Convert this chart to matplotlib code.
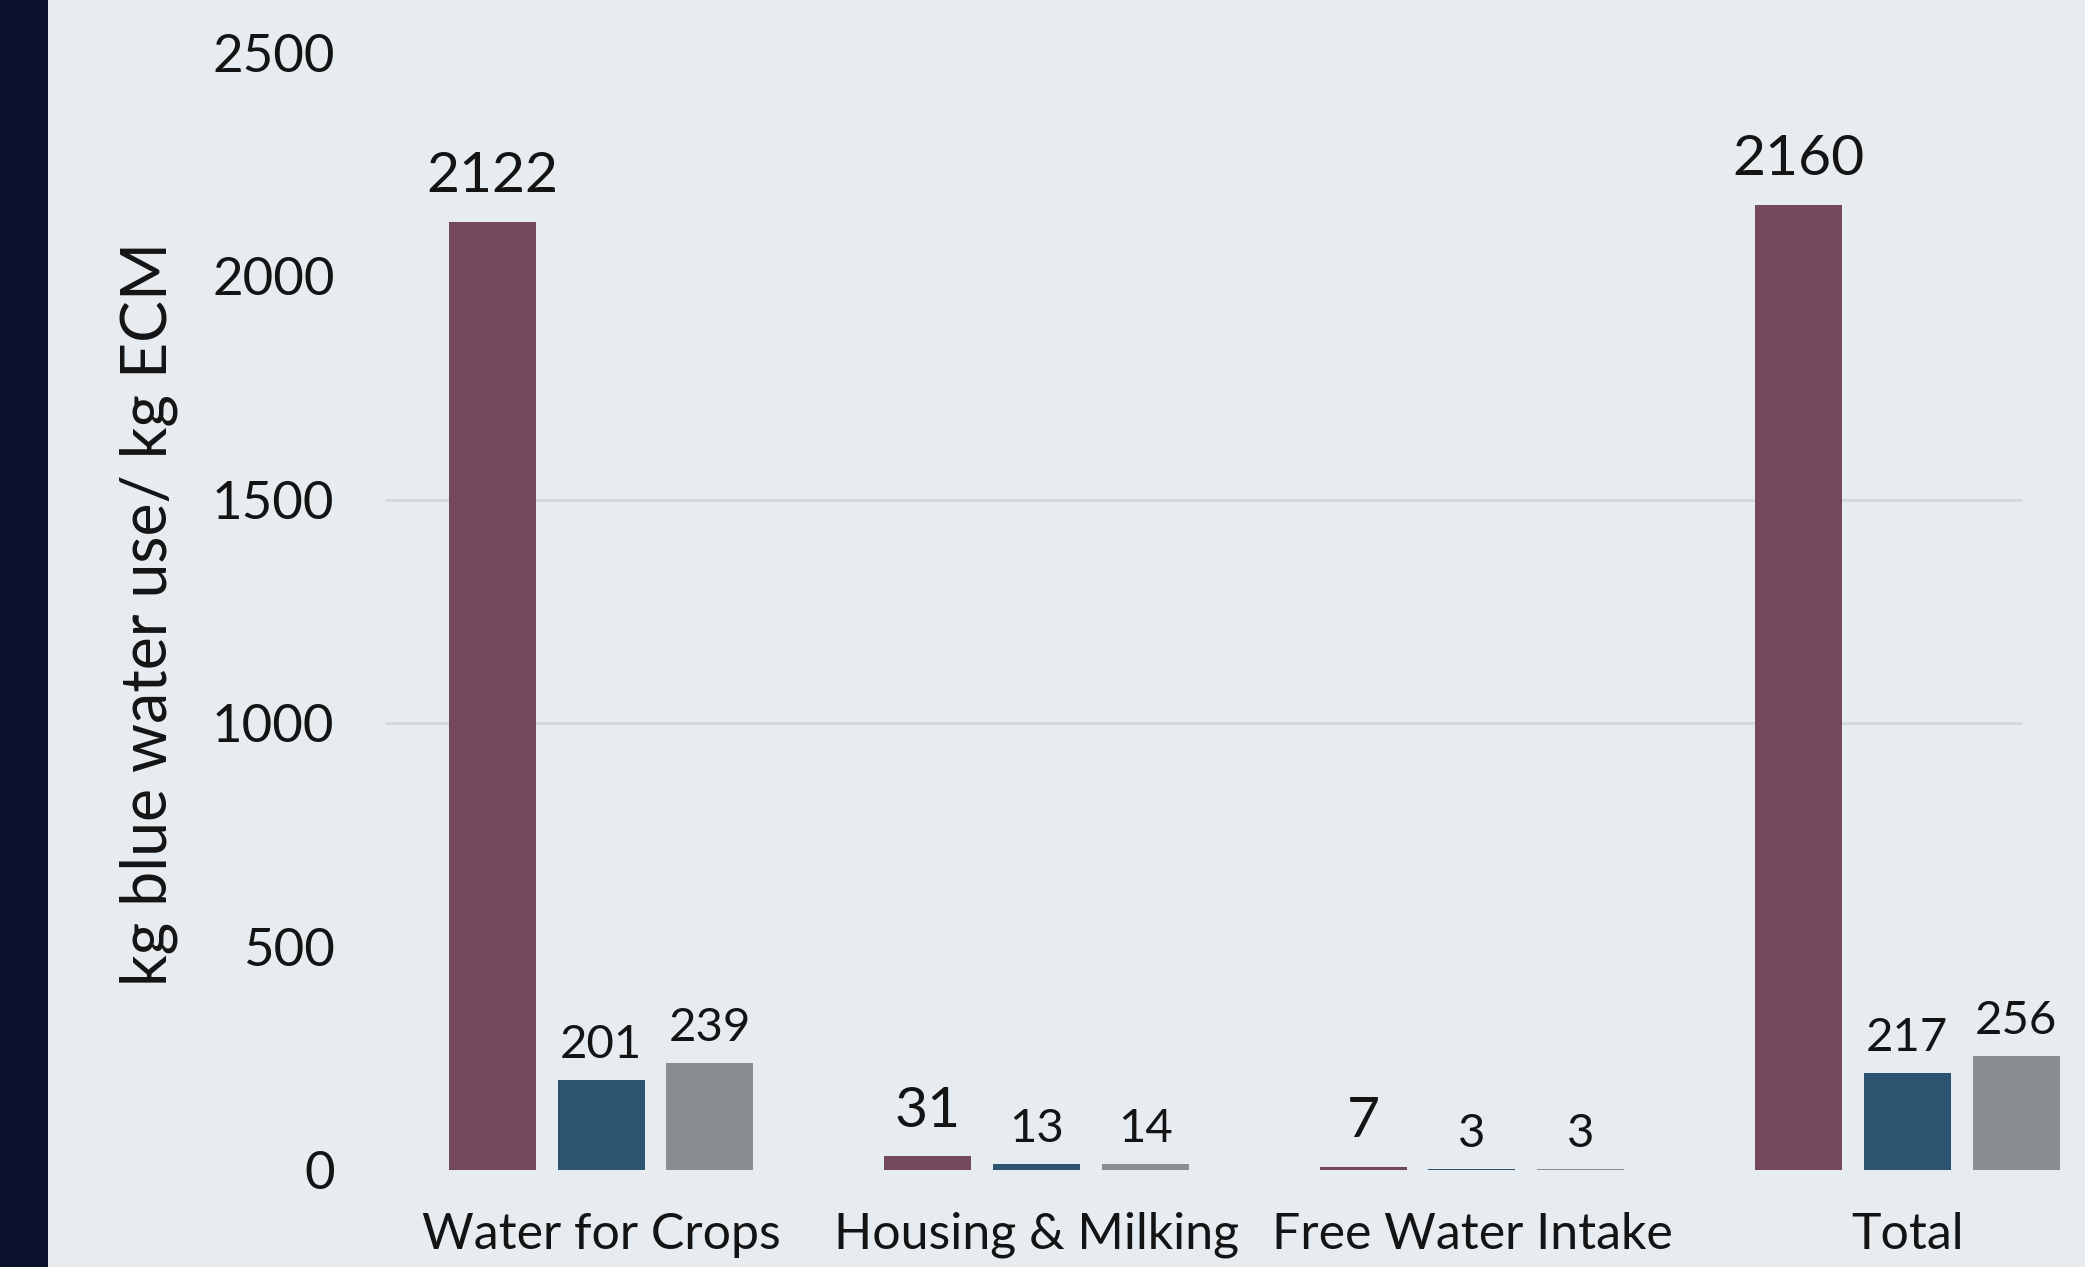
import matplotlib.pyplot as plt
import matplotlib.patches as mpatches
import numpy as np

categories = ["Water for Crops", "Housing & Milking", "Free Water Intake", "Total"]
series_a = [2122, 31, 7, 2160]
series_b = [201, 13, 3, 217]
series_c = [239, 14, 3, 256]
y_ticks = [0, 500, 1000, 1500, 2000, 2500]
grid_values = [1000, 1500]

bg = '#E6ECEF'
colors = ['#73485C', '#2B5470', '#8A8D92']
text_col = '#141414'
font = 'Lato'

fig = plt.figure(figsize=(20.85, 12.67), dpi=100)
fig.patch.set_facecolor(bg)

# dark strip down the left edge
fig.patches.append(mpatches.Rectangle((0, 0), 48 / 2085, 1, transform=fig.transFigure,
                                      facecolor='#0C102D', edgecolor='none', zorder=0))

ax = fig.add_axes([386 / 2085, 1 - 1170 / 1267, 1 - 386 / 2085, (1170 - 53) / 1267])
ax.set_facecolor(bg)

x = np.arange(len(categories))
step = 0.25
width = 0.2

for g in grid_values:
    ax.axhline(g, xmin=0, xmax=0.962, color='#D3D9DD', lw=2, zorder=0)

all_series = [series_a, series_b, series_c]
for i, vals in enumerate(all_series):
    pos = x + (i - 1) * step
    ax.bar(pos, vals, width=width, color=colors[i], zorder=2)
    big = i == 0
    for p, v in zip(pos, vals):
        ax.annotate(str(v), (p, v), xytext=(0, 14 if big else 10), textcoords='offset points',
                    ha='center', va='bottom', fontsize=41 if big else 34,
                    color=text_col, family=font, annotation_clip=False)

ax.set_xlim(-0.494, 3.408)
ax.set_ylim(0, 2500)
ax.set_yticks(y_ticks)
ax.set_yticklabels([str(t) for t in y_ticks], fontsize=38, color=text_col, family=font)
ax.set_xticks(x)
ax.set_xticklabels(categories, fontsize=36, color=text_col, family=font)
ax.tick_params(axis='y', length=0, pad=37)
ax.tick_params(axis='x', length=0, pad=30)
for s in ax.spines.values():
    s.set_visible(False)

fig.text(149 / 2085, 1 - 614 / 1267, "kg blue water use/ kg ECM", rotation=90,
         ha='center', va='center', fontsize=45, color=text_col, family=font)

plt.savefig('out.png', dpi=100, facecolor=bg)
